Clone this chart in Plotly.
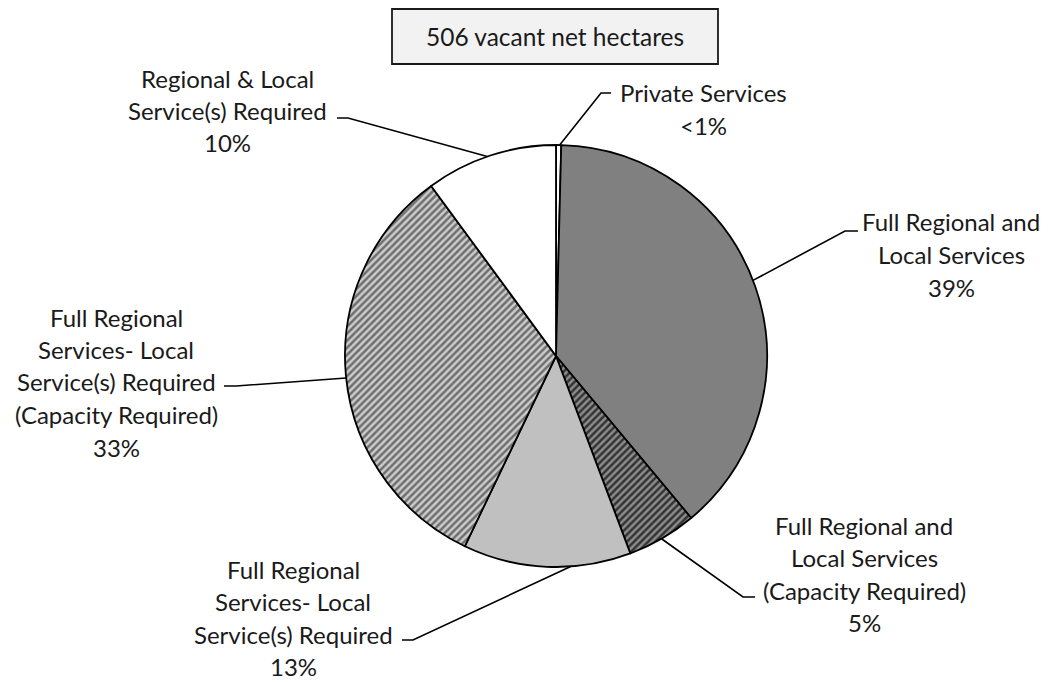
import math
import plotly.graph_objects as go

# data: vacant net hectares by servicing category (506 total)
categories = [
    "Private Services",
    "Full Regional and Local Services",
    "Full Regional and Local Services (Capacity Required)",
    "Full Regional Services- Local Service(s) Required",
    "Full Regional Services- Local Service(s) Required (Capacity Required)",
    "Regional & Local Service(s) Required",
]
hectares = [2, 195, 27, 65, 166, 51]
label_lines = [
    ["Private Services"],
    ["Full Regional and", "Local Services"],
    ["Full Regional and", "Local Services", "(Capacity Required)"],
    ["Full Regional", "Services- Local", "Service(s) Required"],
    ["Full Regional", "Services- Local", "Service(s) Required", "(Capacity Required)"],
    ["Regional & Local", "Service(s) Required"],
]
title_text = "506 vacant net hectares"

# page has an 8px body margin, so work in window pixels and shift
OFF = 8
W, H = 1051 - OFF, 682 - OFF
CX, CY, R = 556, 356, 211


def fx(x):
    return (x - OFF) / W


def fy(y):
    return 1 - (y - OFF) / H


fill = ["#ffffff", "#808080", "#808080", "#c0c0c0", "#c0c0c0", "#ffffff"]
shapes_pat = ["", "", "/", "", "/", ""]
fg = ["#ffffff", "#808080", "#333333", "#c0c0c0", "#6e6e6e", "#ffffff"]
bg = ["#ffffff", "#808080", "#8c8c8c", "#c0c0c0", "#cccccc", "#ffffff"]

fig = go.Figure(go.Pie(
    labels=categories, values=hectares, sort=False, direction="clockwise",
    rotation=0, textinfo="none", hoverinfo="label+value+percent",
    marker=dict(colors=fill, line=dict(color="black", width=1.8),
                pattern=dict(shape=shapes_pat, fgcolor=fg, bgcolor=bg,
                             size=5, solidity=0.5)),
    domain=dict(x=[fx(CX - R), fx(CX + R)], y=[fy(CY + R), fy(CY - R)]),
    showlegend=False,
))

# label layout (pixels): text centre x, line y's, elbow, tick end, leader angle
lab_cx = [703, 951, 864, 293, 116, 227]
lab_y0 = [93, 222, 525, 569, 317, 78]
line_gap = 32.5
elbow = [(601, 93), (845, 231), (743, 597), (413, 640), (236, 386), (348, 118)]
tick_end = [(611, 93), (858, 231), (755, 597), (402, 640), (224, 386), (337, 118)]
leader_deg = [1, 69, 150, 176, 264, 341]

font = "Lato, Open Sans, sans-serif"
total = sum(hectares)
shapes = []
annotations = []
for i, lines in enumerate(label_lines):
    pct = 100 * hectares[i] / total
    ptxt = "<1%" if pct < 1 else f"{round(pct)}%"
    for j, t in enumerate(lines + [ptxt]):
        annotations.append(dict(
            x=fx(lab_cx[i]), y=fy(lab_y0[i] + j * line_gap), xref="paper", yref="paper",
            text=t.replace("<", "&lt;"), showarrow=False, xanchor="center", yanchor="middle",
            font=dict(family=font, size=24, color="#1a1a1a")))
    a = math.radians(leader_deg[i])
    px0, py0 = CX + R * math.sin(a), CY - R * math.cos(a)
    ex, ey = elbow[i]
    tx, ty = tick_end[i]
    shapes.append(dict(type="path", xref="paper", yref="paper",
                       path=f"M {fx(px0)},{fy(py0)} L {fx(ex)},{fy(ey)} L {fx(tx)},{fy(ty)}",
                       line=dict(color="black", width=1.6)))

# title box
shapes.append(dict(type="rect", xref="paper", yref="paper", x0=fx(392), x1=fx(718), y0=fy(64), y1=fy(9),
                   fillcolor="#f2f2f2", line=dict(color="#1a1a1a", width=1.8), layer="below"))
annotations.append(dict(x=fx(555), y=fy(37), xref="paper", yref="paper", text=title_text,
                        showarrow=False, xanchor="center", yanchor="middle",
                        font=dict(family=font, size=24.5, color="#1a1a1a")))

fig.update_layout(width=W, height=H, margin=dict(l=0, r=0, t=0, b=0),
                  paper_bgcolor="white", plot_bgcolor="white",
                  shapes=shapes, annotations=annotations)
fig.write_html("out.html")
